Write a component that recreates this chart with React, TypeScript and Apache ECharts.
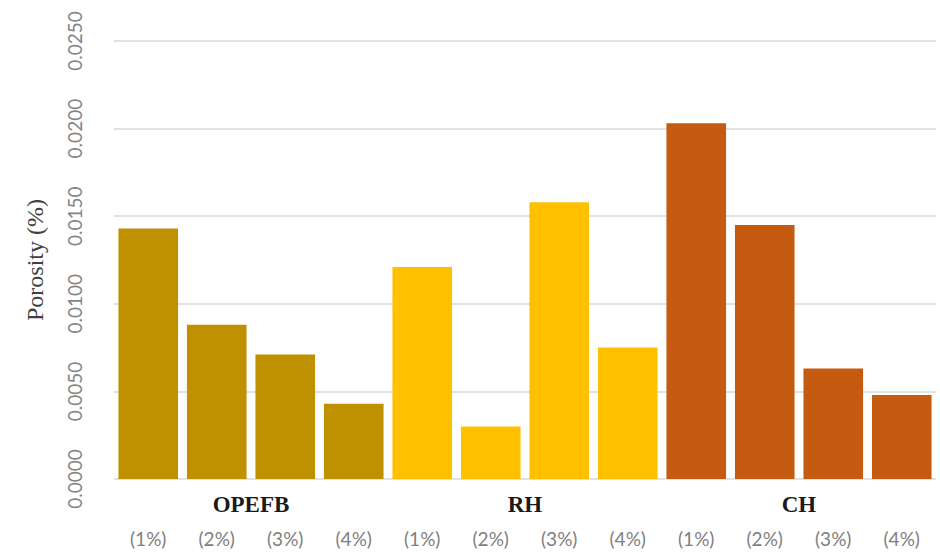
import React, { useEffect, useRef } from "react";
import * as echarts from "echarts";

const groups = ["OPEFB", "RH", "CH"];
const doses = ["(1%)", "(2%)", "(3%)", "(4%)"];
const opefbValues = [0.0143, 0.0088, 0.0071, 0.0043];
const rhValues = [0.0121, 0.003, 0.0158, 0.0075];
const chValues = [0.0203, 0.0145, 0.0063, 0.0048];
const groupColors = ["#BF9000", "#FFC000", "#C55A11"];
const yTicks = { min: 0, max: 0.025, interval: 0.005 };

export default function App() {
  const ref = useRef<HTMLDivElement>(null);
  useEffect(() => {
    if (!ref.current) return;
    const chart = echarts.init(ref.current, null, { renderer: "svg" });
    const groupValues = [opefbValues, rhValues, chValues];
    const categories: string[] = [];
    const data: any[] = [];
    groupValues.forEach((vals, gi) => {
      vals.forEach((v, i) => {
        categories.push(doses[i]);
        data.push({ value: v, itemStyle: { color: groupColors[gi] } });
      });
    });
    chart.setOption({
      animation: false,
      grid: { left: 114, right: 4, top: 41, bottom: 75 },
      xAxis: [
        {
          type: "category",
          data: categories,
          position: "bottom",
          axisLine: { show: false },
          axisTick: { show: false },
          axisLabel: {
            interval: 0,
            margin: 50,
            color: "#808080",
            fontFamily: "Lato",
            fontSize: 19,
          },
        },
        {
          type: "category",
          data: groups,
          position: "bottom",
          axisLine: { show: false },
          axisTick: { show: false },
          splitLine: { show: false },
          axisLabel: {
            interval: 0,
            margin: 14,
            color: "#1a1a1a",
            fontFamily: "Liberation Serif",
            fontWeight: "bold",
            fontSize: 23,
          },
        },
      ],
      yAxis: {
        type: "value",
        min: yTicks.min,
        max: yTicks.max,
        interval: yTicks.interval,
        name: "Porosity (%)",
        nameLocation: "middle",
        nameRotate: 90,
        nameGap: 67,
        nameTextStyle: {
          fontFamily: "Liberation Serif",
          fontSize: 24,
          color: "#404040",
        },
        axisLine: { show: false },
        axisTick: { show: false },
        splitLine: { lineStyle: { color: "#d9d9d9", width: 1.5 } },
        axisLabel: {
          rotate: 90,
          margin: 30,
          color: "#858585",
          fontFamily: "Lato",
          fontSize: 19,
          formatter: (v: number) => v.toFixed(4),
        },
      },
      series: [
        {
          type: "bar",
          xAxisIndex: 0,
          data,
          barCategoryGap: "13%",
        },
      ],
    });
    return () => chart.dispose();
  }, []);
  return (
    <div
      ref={ref}
      style={{ position: "fixed", left: 0, top: 0, width: 940, height: 554, background: "#fff" }}
    />
  );
}
